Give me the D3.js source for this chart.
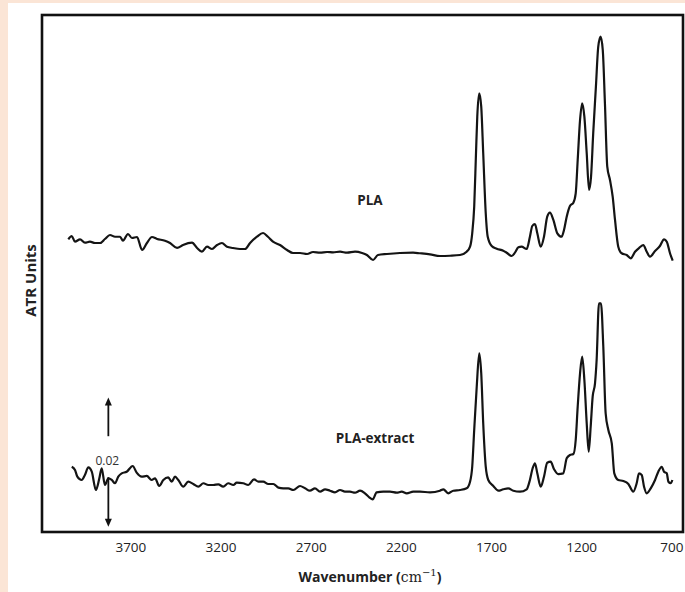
<!DOCTYPE html>
<html>
<head>
<meta charset="utf-8">
<script src="https://cdn.jsdelivr.net/npm/d3@7"></script>
<style>
  html, body { margin: 0; padding: 0; background: #ffffff; }
  svg { display: block; }
</style>
</head>
<body>
<svg id="chart" width="685" height="592"></svg>
<script>
// ---- Data (wavenumber in cm^-1, ATR units x 10^-3) ----
const xTickValues = [3700, 3200, 2700, 2200, 1700, 1200, 700];
const seriesNames = ["PLA", "PLA-extract"];

const plaWavenumber = [4044,4025,4007,3979,3952,3924,3896,3868,3841,3813,3785,3757,3741,3713,3691,3663,3635,3608,3580,3552,3508,3480,3441,3408,3358,3330,3303,3275,3247,3219,3192,3164,3131,3092,3064,3036,2998,2964,2937,2909,2870,2831,2798,2759,2720,2687,2648,2609,2576,2537,2498,2454,2415,2388,2354,2327,2277,2205,2132,2094,2038,1983,1927,1872,1835,1816,1804,1793,1783,1776,1765,1754,1743,1729,1718,1696,1668,1632,1613,1585,1567,1548,1530,1502,1484,1471,1456,1443,1424,1406,1388,1373,1354,1332,1308,1295,1280,1262,1243,1230,1219,1206,1194,1182,1169,1156,1145,1133,1118,1105,1092,1080,1068,1055,1040,1025,1012,994,975,947,925,901,877,855,836,818,790,763,740,725,707,692];
const plaValue = [45.29,45.80,44.92,45.29,44.77,44.92,44.72,44.72,45.34,45.96,45.69,45.69,45.08,46.11,45.49,45.65,43.64,44.72,45.65,45.34,45.08,44.72,43.95,44.41,44.77,43.95,43.37,44.15,43.79,44.41,44.72,44.15,43.95,43.79,43.79,44.72,45.69,46.27,45.69,44.92,44.41,43.64,43.17,43.17,43.02,43.33,43.22,43.33,43.28,43.37,43.22,43.37,43.17,42.86,42.09,42.86,43.02,43.17,43.22,43.13,42.97,42.71,42.75,42.86,43.37,44.15,46.22,50.34,58.65,64.26,67.88,65.81,58.60,49.32,45.69,44.26,43.84,43.53,43.22,42.71,43.22,44.05,44.15,43.79,45.69,47.35,47.66,46.22,44.15,45.69,48.79,49.41,48.28,46.22,45.69,46.73,48.79,50.45,50.96,52.41,57.56,63.75,66.34,64.26,58.60,52.92,54.98,61.69,68.91,75.10,76.64,74.58,66.34,56.53,54.47,51.88,48.28,44.15,43.13,42.86,42.35,43.37,43.99,44.41,43.37,42.60,43.48,44.26,45.29,44.92,43.13,41.98];

const extractWavenumber = [4025,4007,3994,3970,3952,3933,3914,3891,3872,3859,3841,3822,3803,3785,3767,3748,3720,3687,3665,3637,3609,3582,3563,3540,3517,3490,3471,3452,3434,3406,3379,3351,3323,3295,3268,3240,3212,3185,3157,3129,3110,3074,3046,3014,2990,2963,2935,2907,2879,2852,2824,2796,2759,2731,2704,2676,2648,2620,2593,2565,2537,2510,2482,2454,2426,2399,2375,2356,2334,2297,2260,2223,2195,2167,2131,2094,2038,1983,1964,1937,1909,1872,1835,1816,1804,1793,1779,1765,1754,1743,1729,1715,1687,1659,1632,1604,1576,1539,1502,1484,1469,1456,1443,1424,1406,1388,1369,1350,1327,1299,1280,1262,1243,1230,1219,1206,1194,1182,1169,1158,1147,1136,1123,1114,1101,1090,1077,1064,1049,1030,1016,994,966,938,911,892,879,864,851,836,814,790,772,753,740,725,716,703,694];
const extractValue = [10.10,9.59,8.56,8.05,8.82,10.01,9.33,6.50,8.31,9.86,7.27,8.31,8.05,7.54,8.56,9.08,9.33,10.21,9.18,8.56,8.67,8.05,8.31,7.12,8.05,8.46,7.78,8.56,8.05,7.01,7.78,7.43,7.01,7.54,7.27,7.27,7.38,7.01,7.54,7.27,7.63,7.54,7.27,8.15,7.78,7.78,7.43,7.43,6.86,6.76,6.76,6.50,7.12,6.76,6.39,6.76,6.24,6.61,6.39,6.14,6.50,6.24,6.24,6.08,6.39,5.99,5.37,5.06,6.14,6.24,6.24,6.08,6.24,5.99,6.24,6.24,6.14,6.39,6.61,5.99,6.39,6.50,6.76,7.78,10.10,15.78,22.48,27.65,24.56,16.82,10.10,8.05,7.12,6.39,6.61,6.76,6.39,6.24,6.61,8.05,9.86,10.63,9.08,7.01,8.56,10.72,10.88,9.70,8.97,9.08,11.40,11.91,12.07,14.24,19.39,24.56,27.13,23.52,16.82,12.43,16.29,20.94,23.01,26.62,35.39,35.39,28.67,18.37,15.78,13.73,9.08,8.05,7.89,7.43,6.24,7.54,9.08,8.82,7.01,5.99,6.76,8.05,9.33,10.10,9.33,9.08,7.78,7.54,8.05];

// Scale bar: 0.02 ATR units (= 20 x 10^-3)
const scaleBarWavenumber = 3822;
const scaleBarLow = 0.8;
const scaleBarSpan = 20;
const scaleBarLabel = "0.02";

// Series label anchor points (wavenumber, value)
const labelWavenumber = [2371, 2343];
const labelValue = [50.6, 13.8];

// ---- Layout ----
const svg = d3.select("#chart");
const W = 685, H = 592;
const plot = { left: 42, right: 683, top: 15, bottom: 532 };

// background decor
svg.append("rect").attr("x", 0).attr("y", 0).attr("width", W).attr("height", H).attr("fill", "#ffffff");
svg.append("rect").attr("x", 0).attr("y", 0).attr("width", W).attr("height", 3).attr("fill", "#fbe5d6");
svg.append("rect").attr("x", 0).attr("y", 0).attr("width", 8).attr("height", H).attr("fill", "#fbe5d6");

const x = d3.scaleLinear().domain([4190, 635]).range([plot.left, plot.right]);
const y = d3.scaleLinear().domain([0, 80]).range([plot.bottom, plot.top]);

// x axis (labels only, no tick marks)
const xAxis = d3.axisBottom(x).tickValues(xTickValues).tickSize(0).tickPadding(10).tickFormat(d3.format("d"));
const gx = svg.append("g").attr("transform", `translate(0,${plot.bottom})`).call(xAxis);
gx.select(".domain").remove();
gx.selectAll("text")
  .attr("font-family", "'Liberation Sans Narrow', 'Open Sans', sans-serif")
  .attr("font-size", 13.5)
  .attr("fill", "#222");

// y axis (no ticks)
const yAxis = d3.axisLeft(y).tickValues([]).tickSize(0);
const gy = svg.append("g").attr("transform", `translate(${plot.left},0)`).call(yAxis);
gy.select(".domain").remove();

// series lines
const line = d3.line()
  .x(d => x(d[0]))
  .y(d => y(d[1]))
  .curve(d3.curveMonotoneX);

const plaData = plaWavenumber.map((w, i) => [w, plaValue[i]]);
const extractData = extractWavenumber.map((w, i) => [w, extractValue[i]]);

[plaData, extractData].forEach(data => {
  svg.append("path")
    .datum(data)
    .attr("fill", "none")
    .attr("stroke", "#141414")
    .attr("stroke-width", 2.2)
    .attr("stroke-linejoin", "round")
    .attr("d", line);
});

// series labels
seriesNames.forEach((name, i) => {
  svg.append("text")
    .attr("x", x(labelWavenumber[i]))
    .attr("y", y(labelValue[i]))
    .attr("text-anchor", "middle")
    .attr("font-family", "'Open Sans', 'Noto Sans', sans-serif")
    .attr("font-weight", 700)
    .attr("font-size", 13.5)
    .attr("fill", "#222")
    .text(name);
});

// scale bar arrows
const sx = x(scaleBarWavenumber);
const yLow = y(scaleBarLow), yHigh = y(scaleBarLow + scaleBarSpan);
const yMid = (yLow + yHigh) / 2;
function arrow(y0, y1) {
  const dir = Math.sign(y1 - y0);
  svg.append("line")
    .attr("x1", sx).attr("x2", sx)
    .attr("y1", y0).attr("y2", y1 - dir * 6)
    .attr("stroke", "#111").attr("stroke-width", 1.8);
  svg.append("path")
    .attr("d", `M${sx},${y1} L${sx - 3.5},${y1 - dir * 8} L${sx + 3.5},${y1 - dir * 8} Z`)
    .attr("fill", "#111");
}
arrow(yMid - 26, yHigh);
arrow(yMid + 15, yLow);
svg.append("text")
  .attr("x", sx - 1)
  .attr("y", yMid + 3)
  .attr("text-anchor", "middle")
  .attr("font-family", "'Open Sans', 'Noto Sans', sans-serif")
  .attr("font-size", 12)
  .attr("fill", "#333")
  .text(scaleBarLabel);

// frame
svg.append("rect")
  .attr("x", plot.left).attr("y", plot.top)
  .attr("width", plot.right - plot.left).attr("height", plot.bottom - plot.top)
  .attr("fill", "none").attr("stroke", "#111").attr("stroke-width", 2.6);

// axis titles
const xt = svg.append("text")
  .attr("x", 370).attr("y", 582)
  .attr("text-anchor", "middle")
  .attr("font-family", "'Open Sans', 'Noto Sans', sans-serif")
  .attr("font-weight", 700)
  .attr("font-size", 14)
  .attr("fill", "#222");
xt.append("tspan").text("Wavenumber (");
xt.append("tspan").attr("font-family", "'DejaVu Serif', serif").attr("font-weight", 400).text("cm");
xt.append("tspan").attr("font-family", "'DejaVu Serif', serif").attr("font-weight", 400).attr("font-size", 10).attr("dy", -6).text("−1");
xt.append("tspan").attr("dy", 6).text(")");

svg.append("text")
  .attr("transform", `translate(36,${(plot.top + plot.bottom) / 2 + 7}) rotate(-90)`)
  .attr("text-anchor", "middle")
  .attr("font-family", "'Open Sans', 'Noto Sans', sans-serif")
  .attr("font-weight", 700)
  .attr("font-size", 15)
  .attr("fill", "#222")
  .text("ATR Units");
</script>
</body>
</html>
